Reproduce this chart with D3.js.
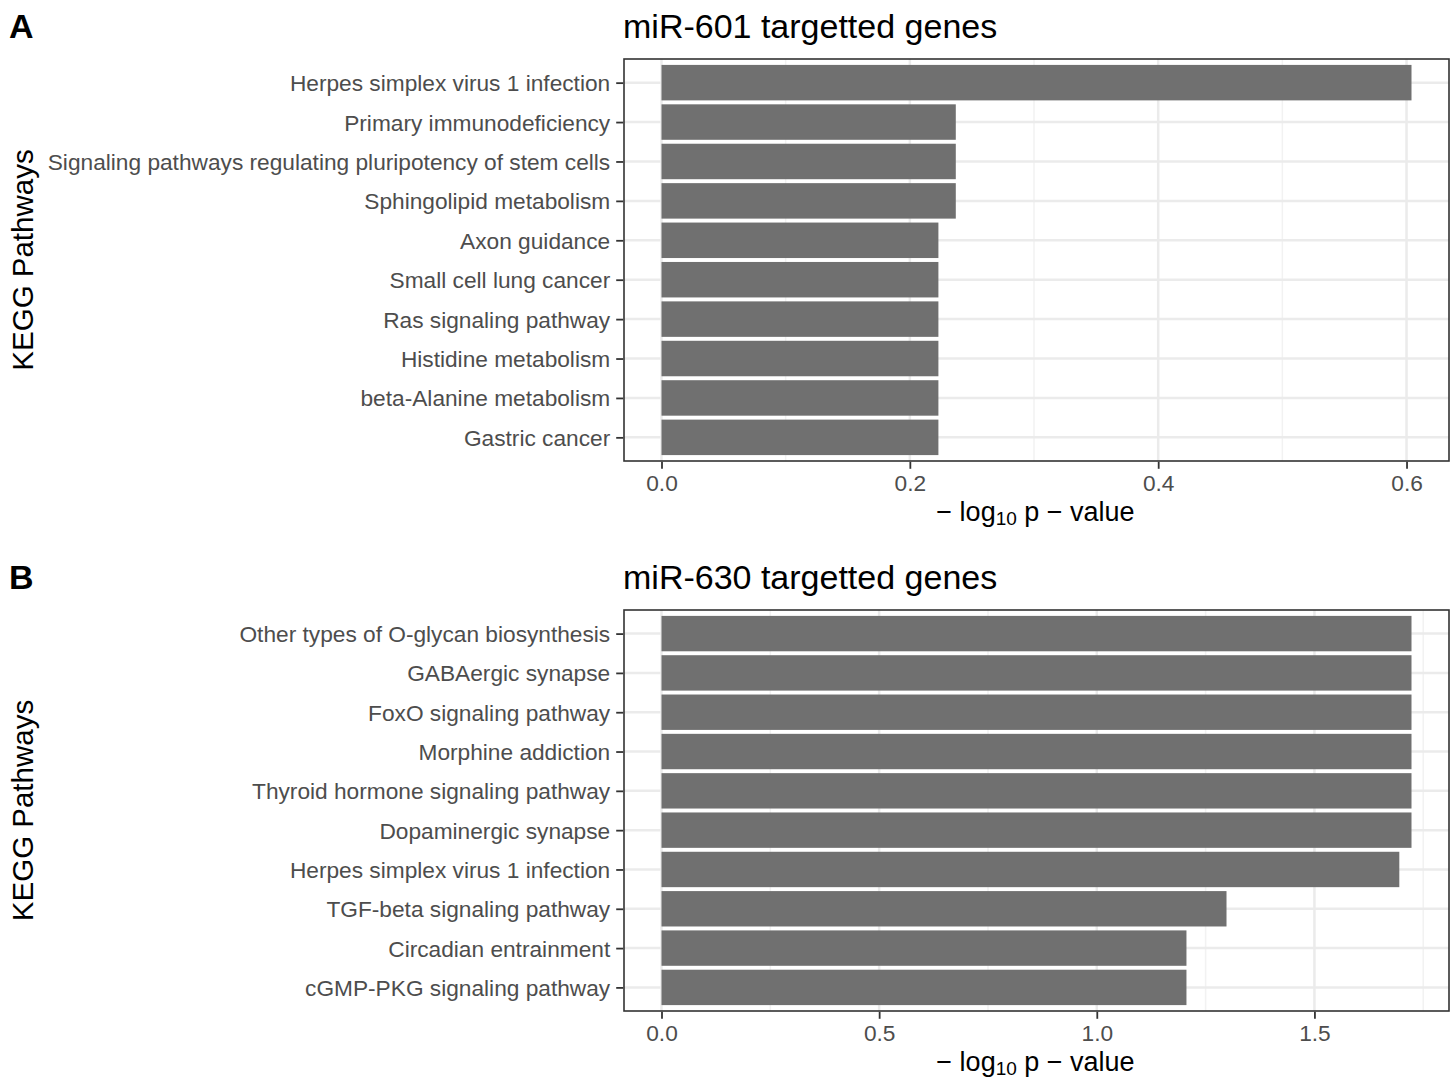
<!DOCTYPE html>
<html>
<head>
<meta charset="utf-8">
<script src="https://cdn.jsdelivr.net/npm/d3@7"></script>
<style>
  html, body { margin: 0; padding: 0; background: #fff; }
  svg { display: block; font-family: "Liberation Sans", Arial, Helvetica, sans-serif; }
</style>
</head>
<body>
<svg id="chart" width="1456" height="1080"></svg>
<script>
// ---- Data ----
const pathwaysA = [
  "Herpes simplex virus 1 infection",
  "Primary immunodeficiency",
  "Signaling pathways regulating pluripotency of stem cells",
  "Sphingolipid metabolism",
  "Axon guidance",
  "Small cell lung cancer",
  "Ras signaling pathway",
  "Histidine metabolism",
  "beta-Alanine metabolism",
  "Gastric cancer"
];
const valuesA = [0.604, 0.237, 0.237, 0.237, 0.223, 0.223, 0.223, 0.223, 0.223, 0.223];
const ticksA = [0.0, 0.2, 0.4, 0.6];
const minorTicksA = [0.1, 0.3, 0.5];

const pathwaysB = [
  "Other types of O-glycan biosynthesis",
  "GABAergic synapse",
  "FoxO signaling pathway",
  "Morphine addiction",
  "Thyroid hormone signaling pathway",
  "Dopaminergic synapse",
  "Herpes simplex virus 1 infection",
  "TGF-beta signaling pathway",
  "Circadian entrainment",
  "cGMP-PKG signaling pathway"
];
const valuesB = [1.723, 1.723, 1.723, 1.723, 1.723, 1.723, 1.695, 1.298, 1.206, 1.206];
const ticksB = [0.0, 0.5, 1.0, 1.5];
const minorTicksB = [0.25, 0.75, 1.25, 1.75];

const titles = ["miR-601 targetted genes", "miR-630 targetted genes"];
const tags = ["A", "B"];
const yTitle = "KEGG Pathways";

// ---- Drawing ----
const svg = d3.select("#chart");

function drawPanel(opts) {
  const { top, bottom, left, right, cats, vals, ticks, minor, title, tag } = opts;
  const g = svg.append("g");
  const maxV = d3.max(vals);
  const pad = maxV * 0.05;
  const x = d3.scaleLinear().domain([-pad, maxV + pad]).range([left, right]);
  // discrete axis expansion 0.6 units each side
  const n = cats.length;
  const unit = (bottom - top) / (n - 1 + 1.2);
  const yc = d3.scaleOrdinal().domain(cats).range(cats.map((c, i) => top + unit * (0.6 + i)));
  const barH = unit * 0.9;

  // panel background
  g.append("rect").attr("x", left).attr("y", top).attr("width", right - left).attr("height", bottom - top).attr("fill", "#fff");

  // gridlines
  g.selectAll(".minor").data(minor.filter(v => x(v) < right && x(v) > left)).enter().append("line")
    .attr("x1", d => x(d)).attr("x2", d => x(d)).attr("y1", top).attr("y2", bottom)
    .attr("stroke", "#F2F2F2").attr("stroke-width", 1.5);
  g.selectAll(".major").data(ticks).enter().append("line")
    .attr("x1", d => x(d)).attr("x2", d => x(d)).attr("y1", top).attr("y2", bottom)
    .attr("stroke", "#EBEBEB").attr("stroke-width", 2.5);
  g.selectAll(".hgrid").data(cats).enter().append("line")
    .attr("x1", left).attr("x2", right).attr("y1", d => yc(d)).attr("y2", d => yc(d))
    .attr("stroke", "#EBEBEB").attr("stroke-width", 2.5);

  // bars
  g.selectAll(".bar").data(cats.map((c, i) => ({ c, v: vals[i] }))).enter().append("rect")
    .attr("x", x(0)).attr("y", d => yc(d.c) - barH / 2)
    .attr("width", d => x(d.v) - x(0)).attr("height", barH)
    .attr("fill", "#707070");

  // border
  g.append("rect").attr("x", left).attr("y", top).attr("width", right - left).attr("height", bottom - top)
    .attr("fill", "none").attr("stroke", "#333333").attr("stroke-width", 1.6);

  // y axis
  const yAxis = d3.axisLeft(yc).tickSize(7).tickPadding(6);
  const ya = g.append("g").attr("transform", `translate(${left - 0.8},0)`).call(yAxis);
  ya.select(".domain").remove();
  ya.selectAll(".tick line").attr("stroke", "#333333").attr("stroke-width", 1.8);
  ya.selectAll(".tick text").attr("fill", "#4D4D4D").style("font-size", "22.7px")
    .style("font-family", "'Liberation Sans', Arial, sans-serif").attr("dy", "0.35em");

  // x axis
  const xAxis = d3.axisBottom(x).tickValues(ticks).tickFormat(d3.format(".1f")).tickSize(7).tickPadding(6);
  const xa = g.append("g").attr("transform", `translate(0,${bottom + 0.8})`).call(xAxis);
  xa.select(".domain").remove();
  xa.selectAll(".tick line").attr("stroke", "#333333").attr("stroke-width", 1.8);
  xa.selectAll(".tick text").attr("fill", "#4D4D4D").style("font-size", "22.7px")
    .style("font-family", "'Liberation Sans', Arial, sans-serif");

  // x title
  const xt = g.append("text").attr("x", (left + right) / 2 - 1).attr("y", bottom + 60)
    .attr("text-anchor", "middle").attr("fill", "#000").style("font-size", "27px");
  xt.append("tspan").text("\u2212 log");
  xt.append("tspan").text("10").style("font-size", "19px").attr("dy", "3.5");
  xt.append("tspan").text(" p \u2212 value").attr("dy", "-3.5");

  // y title
  g.append("text").attr("transform", `translate(33,${(top + bottom) / 2}) rotate(-90)`)
    .attr("text-anchor", "middle").attr("fill", "#000").style("font-size", "29.5px").text(yTitle);

  // title
  g.append("text").attr("x", left - 1).attr("y", top - 21).attr("fill", "#000")
    .style("font-size", "34px").text(title);

  // tag
  g.append("text").attr("x", 9).attr("y", top - 21).attr("fill", "#000")
    .style("font-size", "34px").style("font-weight", "bold").text(tag);
}

drawPanel({ top: 59, bottom: 461, left: 624, right: 1449, cats: pathwaysA, vals: valuesA,
  ticks: ticksA, minor: minorTicksA, title: titles[0], tag: tags[0] });
drawPanel({ top: 610, bottom: 1011, left: 624, right: 1449, cats: pathwaysB, vals: valuesB,
  ticks: ticksB, minor: minorTicksB, title: titles[1], tag: tags[1] });
</script>
</body>
</html>
